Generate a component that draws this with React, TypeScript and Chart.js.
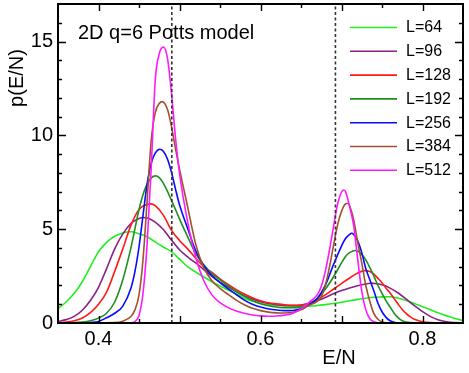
import React, { useEffect, useRef } from 'react';
import { Chart, registerables } from 'chart.js';

Chart.register(...registerables);

const TITLE = '2D q=6 Potts model';
const X_LABEL = 'E/N';
const Y_LABEL = 'p(E/N)';

const LABELS = ['L=64', 'L=96', 'L=128', 'L=192', 'L=256', 'L=384', 'L=512'];
const COLORS = ['#22ee22', '#882288', '#ff1a1a', '#1f8f1f', '#0a0aff', '#a0522d', '#ff19ff'];

const E_64 = [0.35, 0.36, 0.37, 0.38, 0.39, 0.40, 0.41, 0.42, 0.43, 0.44, 0.45, 0.46, 0.47, 0.48, 0.49, 0.50, 0.51, 0.52, 0.53, 0.54, 0.55, 0.56, 0.57, 0.58, 0.59, 0.60, 0.61, 0.62, 0.63, 0.64, 0.65, 0.66, 0.67, 0.68, 0.69, 0.70, 0.71, 0.72, 0.73, 0.74, 0.75, 0.76, 0.77, 0.78, 0.79, 0.80, 0.81, 0.82, 0.83, 0.84, 0.85];
const P_64 = [0.78, 1.12, 1.58, 2.2, 3.0, 3.8, 4.3, 4.62, 4.8, 4.86, 4.76, 4.6, 4.32, 4.05, 3.8, 3.4, 3.0, 2.72, 2.45, 2.2, 1.97, 1.76, 1.55, 1.32, 1.16, 1.04, 0.97, 0.93, 0.91, 0.9, 0.9, 0.9, 0.93, 0.98, 1.04, 1.11, 1.19, 1.26, 1.32, 1.37, 1.39, 1.4, 1.32, 1.2, 1.04, 0.87, 0.7, 0.53, 0.38, 0.24, 0.13];

const E_96 = [0.35, 0.36, 0.37, 0.38, 0.39, 0.40, 0.41, 0.42, 0.43, 0.44, 0.45, 0.455, 0.46, 0.47, 0.48, 0.49, 0.50, 0.51, 0.52, 0.53, 0.54, 0.55, 0.56, 0.57, 0.58, 0.59, 0.60, 0.61, 0.62, 0.63, 0.64, 0.65, 0.66, 0.67, 0.68, 0.69, 0.70, 0.71, 0.72, 0.73, 0.735, 0.74, 0.75, 0.76, 0.77, 0.78, 0.79, 0.80, 0.81, 0.82, 0.83, 0.84, 0.85];
const P_96 = [0.08, 0.18, 0.35, 0.68, 1.2, 1.9, 2.9, 3.95, 4.75, 5.3, 5.57, 5.62, 5.6, 5.38, 4.98, 4.42, 3.9, 3.52, 3.2, 2.85, 2.48, 2.18, 1.92, 1.68, 1.46, 1.28, 1.14, 1.04, 0.98, 0.94, 0.93, 0.96, 1.04, 1.18, 1.36, 1.56, 1.73, 1.87, 1.99, 2.08, 2.12, 2.11, 2.04, 1.86, 1.6, 1.27, 0.92, 0.61, 0.34, 0.16, 0.06, 0.02, 0.01];

const E_128 = [0.35, 0.36, 0.37, 0.38, 0.39, 0.40, 0.41, 0.42, 0.43, 0.44, 0.45, 0.46, 0.465, 0.47, 0.48, 0.49, 0.50, 0.51, 0.52, 0.53, 0.54, 0.55, 0.56, 0.57, 0.58, 0.59, 0.60, 0.61, 0.62, 0.63, 0.64, 0.65, 0.66, 0.67, 0.68, 0.69, 0.70, 0.71, 0.72, 0.7285, 0.735, 0.74, 0.745, 0.75, 0.755, 0.76, 0.765, 0.77, 0.775, 0.78, 0.785, 0.79, 0.80, 0.81, 0.85];
const P_128 = [0.02, 0.05, 0.12, 0.27, 0.55, 1.0, 1.65, 2.75, 3.95, 5.2, 6.05, 6.32, 6.35, 6.25, 5.75, 4.95, 4.4, 3.95, 3.45, 3.0, 2.7, 2.35, 2.05, 1.78, 1.55, 1.35, 1.19, 1.08, 1.02, 0.97, 0.94, 0.95, 1.05, 1.25, 1.5, 1.8, 2.1, 2.4, 2.66, 2.79, 2.74, 2.6, 2.38, 2.15, 1.85, 1.6, 1.3, 1.0, 0.72, 0.5, 0.33, 0.2, 0.07, 0.02, 0.0];

const E_192 = [0.35, 0.37, 0.38, 0.39, 0.40, 0.41, 0.42, 0.43, 0.44, 0.45, 0.455, 0.46, 0.465, 0.47, 0.475, 0.48, 0.49, 0.50, 0.51, 0.52, 0.53, 0.54, 0.55, 0.56, 0.57, 0.58, 0.59, 0.60, 0.61, 0.62, 0.63, 0.64, 0.65, 0.66, 0.67, 0.68, 0.69, 0.70, 0.705, 0.71, 0.7175, 0.72, 0.725, 0.73, 0.735, 0.74, 0.745, 0.75, 0.755, 0.76, 0.765, 0.77, 0.775, 0.78, 0.79, 0.85];
const P_192 = [0.0, 0.02, 0.05, 0.12, 0.26, 0.52, 1.12, 2.3, 4.0, 6.05, 6.85, 7.4, 7.72, 7.84, 7.75, 7.45, 6.55, 5.55, 4.6, 3.7, 3.1, 2.62, 2.3, 1.98, 1.68, 1.42, 1.2, 1.03, 0.92, 0.85, 0.81, 0.81, 0.86, 1.0, 1.3, 1.8, 2.45, 3.2, 3.55, 3.75, 3.86, 3.84, 3.65, 3.36, 2.95, 2.5, 2.0, 1.58, 1.18, 0.85, 0.52, 0.27, 0.12, 0.05, 0.01, 0.0];

const E_256 = [0.35, 0.38, 0.39, 0.40, 0.41, 0.42, 0.43, 0.44, 0.445, 0.45, 0.455, 0.46, 0.465, 0.47, 0.4757, 0.48, 0.485, 0.49, 0.495, 0.50, 0.51, 0.52, 0.53, 0.54, 0.55, 0.56, 0.57, 0.58, 0.59, 0.60, 0.61, 0.62, 0.63, 0.64, 0.65, 0.66, 0.67, 0.68, 0.69, 0.70, 0.705, 0.71, 0.7125, 0.715, 0.72, 0.725, 0.73, 0.735, 0.74, 0.745, 0.75, 0.755, 0.76, 0.765, 0.77, 0.85];
const P_256 = [0.0, 0.01, 0.03, 0.08, 0.28, 0.52, 0.9, 1.85, 2.75, 4.05, 5.75, 7.4, 8.5, 9.05, 9.26, 9.15, 8.75, 8.05, 7.15, 6.3, 5.05, 3.85, 3.05, 2.52, 2.15, 1.82, 1.52, 1.22, 1.0, 0.85, 0.75, 0.69, 0.66, 0.67, 0.76, 0.98, 1.3, 2.0, 3.1, 4.1, 4.5, 4.72, 4.78, 4.72, 4.38, 3.75, 2.9, 2.3, 1.7, 1.05, 0.6, 0.3, 0.12, 0.04, 0.01, 0.0];

const E_384 = [0.35, 0.42, 0.43, 0.44, 0.445, 0.45, 0.455, 0.46, 0.465, 0.47, 0.475, 0.4786, 0.485, 0.49, 0.495, 0.50, 0.51, 0.52, 0.53, 0.54, 0.55, 0.56, 0.57, 0.58, 0.59, 0.60, 0.61, 0.62, 0.63, 0.64, 0.65, 0.66, 0.67, 0.675, 0.68, 0.685, 0.69, 0.695, 0.70, 0.705, 0.7075, 0.71, 0.715, 0.72, 0.725, 0.73, 0.735, 0.74, 0.745, 0.75, 0.76, 0.85];
const P_384 = [0.0, 0.02, 0.1, 0.35, 0.7, 1.5, 3.4, 6.5, 9.7, 11.2, 11.7, 11.8, 11.4, 10.5, 9.3, 8.2, 6.2, 4.2, 2.95, 2.25, 1.85, 1.52, 1.22, 0.97, 0.78, 0.66, 0.58, 0.54, 0.53, 0.57, 0.7, 0.95, 1.15, 1.4, 2.0, 2.95, 4.1, 5.2, 5.95, 6.35, 6.38, 6.25, 5.5, 4.3, 3.2, 2.0, 1.15, 0.5, 0.2, 0.06, 0.0, 0.0];

const E_512 = [0.35, 0.44, 0.445, 0.45, 0.455, 0.46, 0.465, 0.47, 0.475, 0.4802, 0.485, 0.49, 0.495, 0.50, 0.51, 0.52, 0.53, 0.54, 0.55, 0.56, 0.57, 0.58, 0.59, 0.60, 0.61, 0.62, 0.63, 0.64, 0.65, 0.66, 0.67, 0.675, 0.68, 0.685, 0.69, 0.695, 0.70, 0.7025, 0.705, 0.71, 0.715, 0.72, 0.725, 0.73, 0.735, 0.74, 0.75, 0.85];
const P_512 = [0.0, 0.01, 0.08, 0.4, 1.6, 4.2, 8.2, 12.9, 14.35, 14.7, 14.15, 12.3, 9.9, 7.98, 5.4, 3.5, 2.25, 1.5, 1.08, 0.82, 0.64, 0.52, 0.43, 0.38, 0.36, 0.37, 0.42, 0.52, 0.75, 1.1, 1.5, 1.95, 2.75, 3.85, 5.1, 6.3, 6.98, 7.09, 7.0, 6.2, 5.2, 3.4, 1.7, 0.7, 0.23, 0.07, 0.0, 0.0];

const SERIES_E = [E_64, E_96, E_128, E_192, E_256, E_384, E_512];
const SERIES_P = [P_64, P_96, P_128, P_192, P_256, P_384, P_512];

const TRANSITION_E = [0.4905, 0.6925];

const X_MIN = 0.35;
const X_MAX = 0.85;
const Y_MIN = 0;
const Y_MAX = 17;
const X_TICKS = [0.4, 0.6, 0.8];
const Y_TICKS = [0, 5, 10, 15];
const X_MINOR = 0.05;
const X_MAJOR = 0.1;
const Y_MINOR = 1;
const Y_MAJOR = 5;

const FONT = "'Liberation Sans', Arial, Helvetica, sans-serif";

const decorPlugin = {
  id: 'decor',
  afterDatasetsDraw(chart: any) {
    const { ctx, chartArea: a } = chart;
    const xs = chart.scales.x;
    const ys = chart.scales.y;
    ctx.save();
    ctx.strokeStyle = '#000';
    ctx.lineWidth = 1.4;
    const nx = Math.round((X_MAX - X_MIN) / X_MINOR);
    for (let i = 0; i <= nx; i++) {
      const v = X_MIN + i * X_MINOR;
      const major = Math.abs(v / X_MAJOR - Math.round(v / X_MAJOR)) < 1e-6;
      const len = major ? 7 : 4;
      const px = Math.round(xs.getPixelForValue(v)) + 0.5;
      if (px <= a.left + 1 || px >= a.right - 1) continue;
      ctx.beginPath();
      ctx.moveTo(px, a.bottom);
      ctx.lineTo(px, a.bottom - len);
      ctx.moveTo(px, a.top);
      ctx.lineTo(px, a.top + len);
      ctx.stroke();
    }
    const ny = Math.round((Y_MAX - Y_MIN) / Y_MINOR);
    for (let i = 0; i <= ny; i++) {
      const v = Y_MIN + i * Y_MINOR;
      const major = v % Y_MAJOR === 0;
      const len = major ? 8 : 4;
      const py = Math.round(ys.getPixelForValue(v)) + 0.5;
      if (py <= a.top + 1 || py >= a.bottom - 1) continue;
      ctx.beginPath();
      ctx.moveTo(a.left, py);
      ctx.lineTo(a.left + len, py);
      ctx.moveTo(a.right, py);
      ctx.lineTo(a.right - len, py);
      ctx.stroke();
    }
    ctx.lineWidth = 2;
    ctx.strokeRect(a.left, a.top, a.right - a.left, a.bottom - a.top);

    ctx.fillStyle = '#000';
    ctx.font = `20px ${FONT}`;
    ctx.textAlign = 'left';
    ctx.textBaseline = 'alphabetic';
    ctx.fillText(TITLE, 78, 39);

    ctx.font = `16px ${FONT}`;
    ctx.textBaseline = 'middle';
    LABELS.forEach((lab, i) => {
      const y = 27.5 + i * 23.8;
      ctx.strokeStyle = COLORS[i];
      ctx.lineWidth = 1.6;
      ctx.beginPath();
      ctx.moveTo(350, y);
      ctx.lineTo(397, y);
      ctx.stroke();
      ctx.fillStyle = '#000';
      ctx.fillText(lab, 406, y + 0.5);
    });

    ctx.font = `20px ${FONT}`;
    ctx.textAlign = 'center';
    ctx.textBaseline = 'alphabetic';
    ctx.fillText(X_LABEL, 339, 364);
    ctx.save();
    ctx.translate(23, 78);
    ctx.rotate(-Math.PI / 2);
    ctx.fillText(Y_LABEL, 0, 0);
    ctx.restore();
    ctx.restore();
  },
};

export default function App() {
  const ref = useRef<HTMLCanvasElement | null>(null);
  useEffect(() => {
    document.body.style.margin = '0';
    const canvas = ref.current;
    if (!canvas) return;
    const curves = LABELS.map((lab, i) => ({
      type: 'line' as const,
      label: lab,
      data: SERIES_E[i].map((e, j) => ({ x: e, y: SERIES_P[i][j] })),
      borderColor: COLORS[i],
      backgroundColor: COLORS[i],
      borderWidth: 1.6,
      pointRadius: 0,
      fill: false,
      cubicInterpolationMode: 'monotone' as const,
      order: LABELS.length - i + 1,
    }));
    const dashed = TRANSITION_E.map((e, k) => ({
      type: 'line' as const,
      label: 'trans' + k,
      data: [
        { x: e, y: Y_MIN },
        { x: e, y: Y_MAX },
      ],
      borderColor: '#333',
      borderWidth: 1.6,
      borderDash: [3, 2.5],
      pointRadius: 0,
      fill: false,
      order: 0,
    }));
    const chart = new Chart(canvas, {
      type: 'line',
      data: { datasets: [...curves, ...dashed] as any },
      options: {
        animation: false,
        responsive: false,
        maintainAspectRatio: false,
        layout: { padding: { top: 4, right: 6, left: 0, bottom: 0 } },
        plugins: { legend: { display: false }, tooltip: { enabled: false } },
        elements: { point: { radius: 0 } },
        scales: {
          x: {
            type: 'linear',
            min: X_MIN,
            max: X_MAX,
            grid: { display: false, drawTicks: false },
            border: { display: false },
            afterBuildTicks: (s: any) => {
              s.ticks = X_TICKS.map((v) => ({ value: v }));
            },
            afterFit: (s: any) => {
              s.height = 50;
              s.paddingLeft = 0;
              s.paddingRight = 0;
            },
            ticks: {
              color: '#000',
              font: { family: FONT, size: 20 },
              padding: 4,
              maxRotation: 0,
              autoSkip: false,
              callback: (v: any) => Number(v).toFixed(1),
            },
          },
          y: {
            type: 'linear',
            min: Y_MIN,
            max: Y_MAX,
            grid: { display: false, drawTicks: false },
            border: { display: false },
            afterBuildTicks: (s: any) => {
              s.ticks = Y_TICKS.map((v) => ({ value: v }));
            },
            afterFit: (s: any) => {
              s.width = 58;
              s.paddingTop = 0;
              s.paddingBottom = 0;
            },
            ticks: {
              color: '#000',
              font: { family: FONT, size: 20 },
              padding: 5,
              callback: (v: any) => String(v),
            },
          },
        },
      },
      plugins: [decorPlugin],
    });
    return () => chart.destroy();
  }, []);
  return (
    <div style={{ position: 'absolute', left: 0, top: 0, width: 469, height: 373, background: '#fff' }}>
      <canvas ref={ref} width={469} height={373} style={{ display: 'block', width: 469, height: 373 }} />
    </div>
  );
}
